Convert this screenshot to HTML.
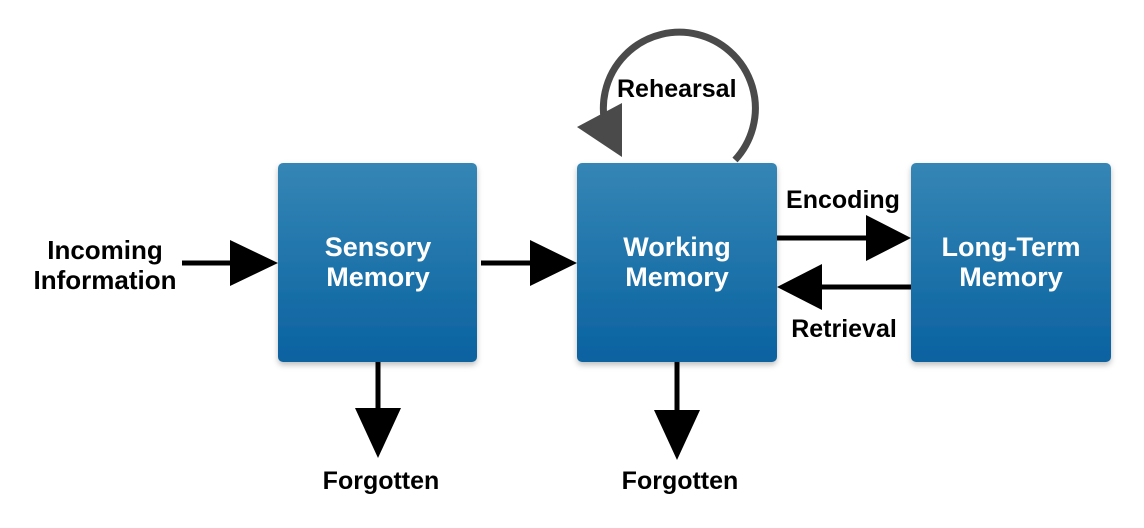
<!DOCTYPE html>
<html><head><meta charset="utf-8"><style>
body{margin:0;background:#fff;}
</style></head><body>
<svg width="1144" height="523" viewBox="0 0 1144 523" xmlns="http://www.w3.org/2000/svg" font-family="Liberation Sans, sans-serif" font-weight="bold">
<defs>
<linearGradient id="g" x1="0" y1="0" x2="0" y2="1">
<stop offset="0" stop-color="#3586b5"/><stop offset="1" stop-color="#0a62a0"/>
</linearGradient>
<filter id="s" x="-10%" y="-10%" width="120%" height="125%"><feDropShadow dx="0" dy="3" stdDeviation="3" flood-color="#000" flood-opacity="0.25"/></filter>
</defs>
<rect x="278" y="163" width="199" height="199" rx="5" fill="url(#g)" filter="url(#s)"/>
<rect x="577" y="163" width="200" height="199" rx="5" fill="url(#g)" filter="url(#s)"/>
<rect x="911" y="163" width="200" height="199" rx="5" fill="url(#g)" filter="url(#s)"/>
<g fill="#fff" font-size="27" text-anchor="middle">
<text x="378" y="256">Sensory</text><text x="378" y="286">Memory</text>
<text x="677" y="256">Working</text><text x="677" y="286">Memory</text>
<text x="1011" y="256">Long-Term</text><text x="1011" y="286">Memory</text>
</g>
<g stroke="#000" stroke-width="5">
<line x1="182" y1="263" x2="235" y2="263"/>
<line x1="481" y1="263" x2="535" y2="263"/>
<line x1="777" y1="238" x2="872" y2="238"/>
<line x1="818" y1="287" x2="911" y2="287"/>
<line x1="378" y1="362" x2="378" y2="412"/>
<line x1="677" y1="362" x2="677" y2="414"/>
</g>
<g fill="#000">
<polygon points="230,240 278,263 230,286"/>
<polygon points="530,240 577,263 530,286"/>
<polygon points="866,215 911,238 866,261"/>
<polygon points="822,264 777,287 822,310"/>
<polygon points="355,408 378,458 401,408"/>
<polygon points="654,410 677,460 700,410"/>
</g>
<path d="M735,160 A76,76 0 1 0 606,128" fill="none" stroke="#4a4a4a" stroke-width="7"/>
<polygon points="577,127 622,103 622,157" fill="#4a4a4a"/>
<g fill="#000" font-size="25">
<text x="617" y="97">Rehearsal</text>
<text x="105" y="259" text-anchor="middle" font-size="26">Incoming</text>
<text x="105" y="289" text-anchor="middle" font-size="26">Information</text>
<text x="843" y="208" text-anchor="middle">Encoding</text>
<text x="844" y="337" text-anchor="middle">Retrieval</text>
<text x="381" y="489" text-anchor="middle">Forgotten</text>
<text x="680" y="489" text-anchor="middle">Forgotten</text>
</g>
</svg>
</body></html>
